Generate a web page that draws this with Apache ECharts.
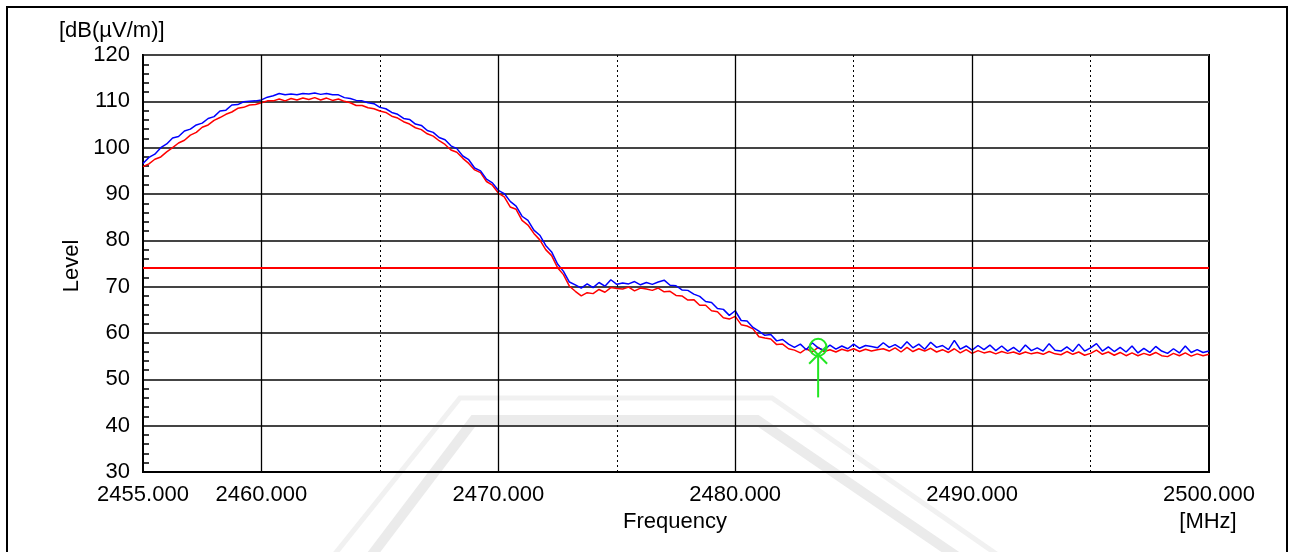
<!DOCTYPE html>
<html>
<head>
<meta charset="utf-8">
<title>Band edge level</title>
<script src="https://cdn.jsdelivr.net/npm/echarts@6/dist/echarts.min.js"></script>
<style>
  html, body { margin: 0; padding: 0; background: #fff; }
  #chart { width: 1298px; height: 552px; }
</style>
</head>
<body>
<div id="chart"></div>
<script>
// Sweep: 2455 – 2500 MHz, 0.25 MHz per point
const freqStart = 2455;
const freqStep = 0.25;

// Peak trace [dB(µV/m)]
const peakLevel = [
  96.6, 97.9, 98.6, 100.0, 100.8, 102.1, 102.4, 103.6, 104.0, 104.9,
  105.3, 106.3, 106.7, 107.9, 108.1, 109.2, 109.3, 109.9, 110.0, 110.1,
  110.3, 110.9, 111.2, 111.7, 111.4, 111.6, 111.4, 111.7, 111.6, 111.8,
  111.5, 111.7, 111.4, 111.4, 110.8, 110.6, 110.2, 110.1, 109.7, 109.5,
  108.7, 108.4, 107.6, 107.2, 106.3, 106.1, 105.1, 104.8, 103.7, 103.3,
  102.2, 101.7, 100.4, 99.8, 98.2, 97.4, 95.6, 95.0, 93.2, 92.4,
  90.8, 90.1, 88.4, 87.4, 85.2, 84.3, 82.2, 81.1, 78.9, 77.5,
  74.9, 73.3, 71.0, 70.4, 69.7, 70.6, 69.8, 70.9, 70.1, 71.5,
  70.5, 70.8, 70.6, 71.1, 70.4, 70.9, 70.5, 71.0, 71.4, 70.3,
  70.2, 69.3, 69.2, 68.4, 67.9, 66.8, 66.6, 65.3, 65.1, 63.8,
  64.8, 62.7, 62.6, 61.2, 60.4, 59.5, 59.7, 58.3, 58.6, 57.6,
  56.9, 57.6, 56.4, 57.9, 56.8, 56.3, 57.4, 56.5, 57.2, 56.6,
  57.6, 56.7, 57.3, 57.1, 56.8, 57.9, 56.9, 57.5, 56.7, 58.1,
  56.8, 57.6, 56.5, 58.0, 56.9, 57.3, 56.4, 58.4, 56.5, 57.2,
  56.3, 57.3, 56.4, 57.4, 56.2, 57.2, 56.1, 56.9, 55.9, 57.4,
  56.2, 56.8, 56.1, 57.7, 56.3, 56.1, 57.0, 56.0, 57.6, 56.1,
  56.8, 57.7, 56.1, 57.0, 56.0, 56.9, 55.9, 57.2, 55.7, 56.7,
  55.8, 57.1, 56.1, 55.6, 56.6, 55.7, 57.2, 55.8, 56.4, 55.8,
  56.1
];

// Average trace [dB(µV/m)]
const avgLevel = [
  95.9, 96.5, 97.5, 98.0, 99.1, 100.0, 101.0, 101.6, 102.7, 103.3,
  104.4, 104.9, 105.9, 106.5, 107.2, 107.7, 108.5, 108.7, 109.2, 109.3,
  109.7, 110.1, 110.1, 110.5, 110.1, 110.6, 110.3, 110.7, 110.4, 110.8,
  110.3, 110.7, 110.2, 110.5, 110.0, 109.7, 109.1, 109.1, 108.6, 108.4,
  107.9, 107.6, 106.8, 106.4, 105.6, 105.1, 104.3, 103.9, 103.0, 102.5,
  101.5, 100.7, 99.5, 99.0, 97.7, 96.6, 95.2, 94.6, 92.7, 91.9,
  90.2, 89.4, 87.2, 86.7, 84.3, 83.3, 81.5, 80.1, 78.0, 76.7,
  74.1, 72.6, 70.1, 69.0, 68.0, 68.7, 68.5, 69.4, 68.8, 69.8,
  69.6, 69.5, 69.9, 69.1, 69.7, 69.5, 69.2, 69.7, 68.9, 69.0,
  68.1, 68.0, 67.1, 67.2, 66.0, 66.0, 64.8, 64.6, 63.3, 63.0,
  63.6, 61.8, 61.5, 60.9, 59.2, 58.9, 58.7, 57.5, 57.6, 56.6,
  56.3, 55.7, 56.6, 55.9, 56.9, 56.0, 56.4, 55.9, 56.5, 56.1,
  56.6, 56.0, 56.5, 56.1, 56.4, 56.6, 56.1, 56.8, 55.9, 56.9,
  56.0, 56.6, 56.1, 56.7, 55.9, 56.4, 55.8, 56.6, 55.7, 56.4,
  55.6, 56.2, 55.7, 56.0, 55.5, 56.0, 55.6, 55.9, 55.4, 55.9,
  55.5, 55.8, 55.4, 56.0, 55.5, 55.3, 56.0, 55.4, 55.9, 55.2,
  55.6, 56.3, 55.4, 55.9, 55.2, 55.8, 55.1, 55.7, 55.1, 55.6,
  55.2, 55.8, 55.1, 54.9, 55.6, 55.1, 55.7, 55.0, 55.5, 55.1,
  55.4
];

// Limit line [dB(µV/m)]
const limitLevel = [74];

// Band-edge marker: frequency, peak reading, marker level, stem foot
const markerFreq = [2483.5];
const markerPeak = [56.9];
const markerLevel = [55.3];
const markerFoot = [46.1];

// Axes
const xMin = 2455, xMax = 2500, xStep = 5;
const xLabelTicks = [2455, 2460, 2470, 2480, 2490, 2500];
const xMajorGrid = [2460, 2470, 2480, 2490];
const yMin = 30, yMax = 120, yStep = 10;

const pair = (arr) => arr.map((v, i) => [freqStart + i * freqStep, v]);

const FONT = 'Liberation Sans, Arial, sans-serif';
const chart = echarts.init(document.getElementById('chart'));

const markerData = markerFreq.map((f, i) => [f, markerPeak[i], markerLevel[i], markerFoot[i]]);

const option = {
  backgroundColor: '#ffffff',
  animation: false,
  textStyle: { fontFamily: FONT },
  graphic: [
    // faint background emblem
    {
      type: 'polygon', z: -10, silent: true,
      shape: { points: [[330, 560], [460, 398], [772, 398], [1005, 560]] },
      style: { fill: 'none', stroke: '#f1f1f1', lineWidth: 5 }
    },
    {
      type: 'polygon', z: -10, silent: true,
      shape: { points: [[368, 560], [474, 420], [757, 420], [962, 560]] },
      style: { fill: 'none', stroke: '#ebebeb', lineWidth: 10 }
    },
    // outer frame
    {
      type: 'rect', z: 100, silent: true,
      shape: { x: 7, y: 7, width: 1280, height: 560 },
      style: { fill: 'none', stroke: '#000', lineWidth: 2 }
    },
    {
      type: 'text', silent: true, left: 59, top: 20,
      style: { text: '[dB(µV/m)]', font: '22px ' + FONT, fill: '#000' }
    },
    {
      type: 'text', silent: true, x: 72, y: 266, rotation: Math.PI / 2,
      style: { text: 'Level', font: '22px ' + FONT, fill: '#000', align: 'center', verticalAlign: 'middle' }
    },
    {
      type: 'text', silent: true, x: 675, y: 522,
      style: { text: 'Frequency', font: '22px ' + FONT, fill: '#000', align: 'center', verticalAlign: 'middle' }
    },
    {
      type: 'text', silent: true, x: 1208, y: 522,
      style: { text: '[MHz]', font: '22px ' + FONT, fill: '#000', align: 'center', verticalAlign: 'middle' }
    }
  ],
  grid: {
    left: 143, right: 89, top: 55, bottom: 80,
    show: true, borderColor: '#000', borderWidth: 2, backgroundColor: 'transparent'
  },
  xAxis: {
    type: 'value', min: xMin, max: xMax, interval: xStep,
    axisLine: { show: true, lineStyle: { color: '#000', width: 2 } },
    axisTick: { show: false },
    axisLabel: {
      color: '#000', fontSize: 22, fontFamily: FONT, margin: 12,
      formatter: (v) => xLabelTicks.indexOf(v) >= 0 ? v.toFixed(3) : ''
    },
    splitLine: { show: true, lineStyle: { color: '#000', width: 1, type: [2, 3] } }
  },
  yAxis: {
    type: 'value', min: yMin, max: yMax, interval: yStep,
    axisLine: { show: true, lineStyle: { color: '#000', width: 2 } },
    axisTick: { show: false, inside: true },
    minorTick: { show: true, splitNumber: 5, length: 6, lineStyle: { color: '#000', width: 1.5 } },
    axisLabel: { color: '#000', fontSize: 22, fontFamily: FONT, margin: 13 },
    splitLine: { show: true, lineStyle: { color: '#444', width: 2 } }
  },
  series: [
    {
      // solid vertical grid at every 10 MHz
      type: 'line', data: [], z: 1, silent: true,
      markLine: {
        silent: true, symbol: 'none', label: { show: false },
        lineStyle: { color: '#000', width: 1.3, type: 'solid' },
        data: xMajorGrid.map((f) => ({ xAxis: f }))
      }
    },
    {
      type: 'line', data: [], z: 2, silent: true,
      markLine: {
        silent: true, symbol: 'none', label: { show: false },
        lineStyle: { color: '#ff0000', width: 2, type: 'solid' },
        data: limitLevel.map((v) => ({ yAxis: v }))
      }
    },
    {
      name: 'Average', type: 'line', data: pair(avgLevel), z: 3,
      showSymbol: false, symbol: 'none',
      lineStyle: { color: '#ff0000', width: 1.5 }
    },
    {
      name: 'Peak', type: 'line', data: pair(peakLevel), z: 4,
      showSymbol: false, symbol: 'none',
      lineStyle: { color: '#0000ff', width: 1.5 }
    },
    {
      name: 'Marker', type: 'custom', z: 5, silent: true,
      data: markerData,
      renderItem: (params, api) => {
        const f = api.value(0);
        const c = api.coord([f, api.value(1)]);
        const m = api.coord([f, api.value(2)]);
        const b = api.coord([f, api.value(3)]);
        const g = '#22e622';
        const a = 9;
        const st = { stroke: g, lineWidth: 2, fill: 'none' };
        return {
          type: 'group',
          children: [
            { type: 'circle', shape: { cx: c[0], cy: c[1], r: 8.5 }, style: st },
            { type: 'line', shape: { x1: m[0] - a, y1: m[1] - a, x2: m[0] + a, y2: m[1] + a }, style: st },
            { type: 'line', shape: { x1: m[0] + a, y1: m[1] - a, x2: m[0] - a, y2: m[1] + a }, style: st },
            { type: 'line', shape: { x1: m[0], y1: m[1], x2: b[0], y2: b[1] }, style: st }
          ]
        };
      }
    }
  ]
};

chart.setOption(option);
</script>
</body>
</html>
